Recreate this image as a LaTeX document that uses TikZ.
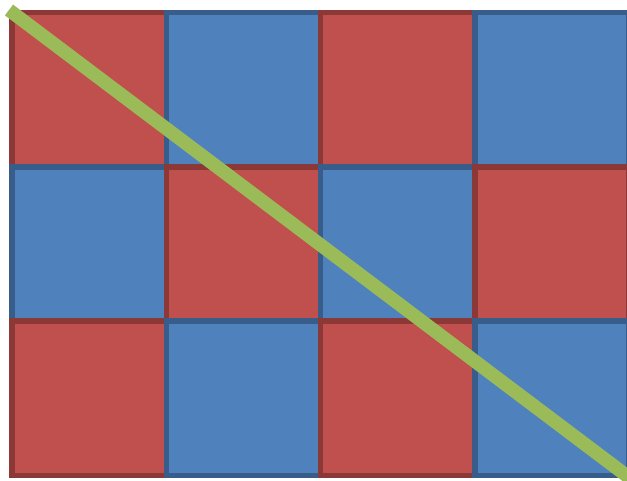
\documentclass[tikz,border=0pt]{standalone}
\definecolor{rfill}{HTML}{C0504D}
\definecolor{rline}{HTML}{8C3836}
\definecolor{bfill}{HTML}{4F81BD}
\definecolor{bline}{HTML}{385D8A}
\definecolor{gline}{HTML}{9BBB59}
\tikzset{
  redsq/.style={fill=rfill,draw=rline,line width=5.5pt},
  bluesq/.style={fill=bfill,draw=bline,line width=5.5pt},
  diag/.style={draw=gline,line width=13.5pt,line cap=butt}
}
\begin{document}
\begin{tikzpicture}[x=1pt,y=-1pt]
\useasboundingbox (0,0) rectangle (627,481);
\clip (0,0) rectangle (627,481);
\fill[white] (0,0) rectangle (627,481);
\foreach \r in {0,1,2}{
  \foreach \c in {0,1,2,3}{
    \pgfmathtruncatemacro{\p}{mod(\r+\c,2)}
    \pgfmathsetmacro{\xa}{12+\c*154.3}
    \pgfmathsetmacro{\ya}{12.5+\r*154.3}
    \ifnum\p=0
      \path[redsq] (\xa,\ya) rectangle ++(154.3,154.3);
    \else
      \path[bluesq] (\xa,\ya) rectangle ++(154.3,154.3);
    \fi
  }
}
\coordinate (s) at (9,10);
\coordinate (e) at (645,489.5);
\draw[diag] (s) -- (e);
\end{tikzpicture}
\end{document}
